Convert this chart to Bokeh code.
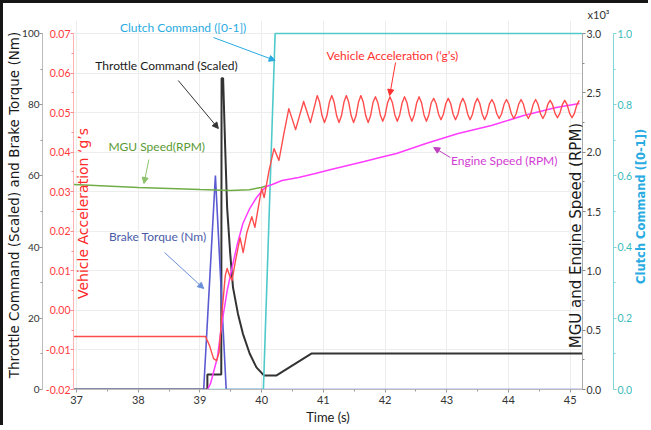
import math
from bokeh.plotting import figure
from bokeh.layouts import row
from bokeh.models import (Range1d, LinearAxis, FixedTicker, NumeralTickFormatter,
                          Label, Arrow, NormalHead, Grid, Title)
from bokeh.embed import file_html
from bokeh.resources import INLINE

# ---------------- data ----------------
x_ticks = [37, 38, 39, 40, 41, 42, 43, 44, 45]
x_minor = [37.5, 38.5, 39.5, 40.5, 41.5, 42.5, 43.5, 44.5]
thr_ticks = [0, 20, 40, 60, 80, 100]
thr_minor = [10, 30, 50, 70, 90]
acc_ticks = [-0.02, -0.01, 0.0, 0.01, 0.02, 0.03, 0.04, 0.05, 0.06, 0.07]
acc_minor = [-0.015, -0.005, 0.005, 0.015, 0.025, 0.035, 0.045, 0.055, 0.065]
spd_ticks = [0, 500, 1000, 1500, 2000, 2500, 3000]
spd_minor = [250, 750, 1250, 1750, 2250, 2750]
spd_labels = ["0.0", "0.5", "1.0", "1.5", "2.0", "2.5", "3.0"]
clu_ticks = [0.0, 0.2, 0.4, 0.6, 0.8, 1.0]
clu_minor = [0.1, 0.3, 0.5, 0.7, 0.9]

# Throttle command (scaled)
thr_time = [36.95, 39.12, 39.12, 39.345, 39.35, 39.375, 39.41, 39.44, 39.49, 39.535,
            39.615, 39.695, 39.805, 39.915, 40.04, 40.235, 40.805, 45.2]
thr_value = [0, 0, 4.2, 4.2, 87.4, 87.4, 67.1, 51.1, 38.2, 28.7,
             21.3, 15.7, 10.1, 6.2, 3.9, 3.9, 10.1, 10.1]

# Brake torque (Nm)
brk_time = [36.95, 39.06, 39.25, 39.425, 45.2]
brk_value = [0, 0, 60.1, 0, 0]

# MGU speed (RPM)
mgu_time = [36.95, 38.0, 39.0, 39.5, 39.8, 39.99, 40.075]
mgu_value = [1728, 1703, 1685, 1677, 1683, 1703, 1715]

# Engine speed (RPM)
eng_time = [39.124, 39.171, 39.227, 39.282, 39.362, 39.441, 39.52, 39.6, 39.695, 39.806,
            39.917, 39.996, 40.075, 40.171, 40.329, 40.599, 40.869, 41.123, 41.392, 41.662,
            41.916, 42.186, 42.662, 43.185, 43.724, 44.248, 44.772, 45.152]
eng_value = [0, 51, 160, 270, 581, 834, 1028, 1213, 1399, 1525,
             1618, 1669, 1711, 1728, 1761, 1787, 1820, 1854, 1888, 1921,
             1955, 1989, 2073, 2157, 2225, 2309, 2376, 2410]

# Clutch command ([0-1])
clu_time = [39.12, 40.028, 40.218, 45.2]
clu_value = [0, 0, 1, 1]

# Vehicle acceleration ('g's) - transient part
acc_time_a = [36.95, 39.09, 39.155, 39.22, 39.27, 39.31, 39.36, 39.41, 39.44, 39.48,
              39.52, 39.57, 39.65, 39.70, 39.76, 39.84, 39.89, 39.95, 40.00, 40.04,
              40.12, 40.20, 40.28, 40.36, 40.44, 40.55, 40.68, 40.79, 40.845]
acc_value_a = [-0.0066, -0.0066, -0.0089, -0.0122, -0.0127, -0.0106, 0.0000, 0.0088, 0.0106, 0.0088,
               0.0076, 0.0121, 0.0184, 0.0146, 0.0197, 0.0237, 0.0210, 0.0265, 0.0308, 0.0285,
               0.0354, 0.0409, 0.0379, 0.0447, 0.0510, 0.0457, 0.0528, 0.0475, 0.0509]
# Vehicle acceleration - sustained oscillation
acc_time_b = [
    40.900, 40.939, 40.979, 41.018, 41.057, 41.097,
    41.136, 41.175, 41.215, 41.254, 41.293, 41.333,
    41.372, 41.411, 41.451, 41.490, 41.529, 41.569,
    41.608, 41.647, 41.687, 41.726, 41.765, 41.805,
    41.844, 41.883, 41.923, 41.962, 42.001, 42.041,
    42.080, 42.119, 42.159, 42.198, 42.237, 42.277,
    42.316, 42.355, 42.395, 42.434, 42.473, 42.513,
    42.552, 42.591, 42.631, 42.670, 42.709, 42.749,
    42.788, 42.827, 42.867, 42.906, 42.945, 42.985,
    43.024, 43.063, 43.103, 43.142, 43.181, 43.221,
    43.260, 43.299, 43.339, 43.378, 43.417, 43.457,
    43.496, 43.535, 43.575, 43.614, 43.653, 43.693,
    43.732, 43.771, 43.811, 43.850, 43.889, 43.929,
    43.968, 44.007, 44.047, 44.086, 44.125, 44.165,
    44.204, 44.243, 44.283, 44.322, 44.361, 44.401,
    44.440, 44.479, 44.519, 44.558, 44.597, 44.637,
    44.676, 44.715, 44.755, 44.794, 44.833, 44.873,
    44.912, 44.951, 44.991, 45.030, 45.069, 45.109,
    45.148]
acc_value_b = [
    0.0543, 0.0526, 0.0492, 0.0475, 0.0492, 0.0526,
    0.0543, 0.0526, 0.0492, 0.0475, 0.0492, 0.0526,
    0.0543, 0.0526, 0.0492, 0.0475, 0.0492, 0.0526,
    0.0543, 0.0526, 0.0492, 0.0475, 0.0492, 0.0526,
    0.0540, 0.0525, 0.0494, 0.0478, 0.0494, 0.0525,
    0.0540, 0.0525, 0.0494, 0.0478, 0.0494, 0.0525,
    0.0540, 0.0525, 0.0494, 0.0478, 0.0494, 0.0525,
    0.0540, 0.0525, 0.0494, 0.0478, 0.0494, 0.0525,
    0.0536, 0.0523, 0.0496, 0.0482, 0.0496, 0.0523,
    0.0536, 0.0523, 0.0496, 0.0482, 0.0496, 0.0523,
    0.0536, 0.0523, 0.0496, 0.0482, 0.0496, 0.0523,
    0.0536, 0.0523, 0.0496, 0.0482, 0.0496, 0.0523,
    0.0533, 0.0521, 0.0497, 0.0485, 0.0497, 0.0521,
    0.0533, 0.0521, 0.0497, 0.0485, 0.0497, 0.0521,
    0.0533, 0.0521, 0.0497, 0.0485, 0.0497, 0.0521,
    0.0533, 0.0521, 0.0497, 0.0485, 0.0497, 0.0521,
    0.0531, 0.0520, 0.0498, 0.0487, 0.0498, 0.0520,
    0.0531, 0.0520, 0.0498, 0.0487, 0.0498, 0.0520,
    0.0531]
acc_time = acc_time_a + acc_time_b
acc_value = acc_value_a + acc_value_b

# ---------------- layout (page pixels of the reference) ----------------
EDGE = 3                            # dark frame line at left / top of the picture
STRIP = 16                          # narrow strip at the right holding the clutch title
W, H = 651 - EDGE - STRIP, 428 - EDGE
X0, X1 = 36.95, 45.2
FL, FR, FT, FB = 70, 590, 33, 389   # page pixels spanned by the axis extents
TOP = 20                            # top of the drawing frame (room for the top note)
BORDER = "3px solid #161616"


def dx(px):
    return X0 + (px - FL) * (X1 - X0) / (FR - FL)


def dy(py):
    return (FB - py) * 100.0 / (FB - FT)


def span_top(lo, hi):
    return lo + (FB - TOP) * (hi - lo) / (FB - FT)


p = figure(width=W, height=H, x_range=Range1d(X0, X1), y_range=Range1d(0, span_top(0, 100)),
           y_axis_location=None, output_backend="svg", toolbar_location=None,
           min_border_left=FL - EDGE, min_border_right=W - (FR - EDGE),
           min_border_top=TOP - EDGE, min_border_bottom=H - (FB - EDGE))
p.styles = {"border-left": BORDER, "border-top": BORDER}
p.outline_line_color = None
p.background_fill_color = "white"
p.border_fill_color = "white"

p.extra_y_ranges = {"accel": Range1d(-0.02, span_top(-0.02, 0.07)),
                    "speed": Range1d(0, span_top(0, 3000)),
                    "clutch": Range1d(0, span_top(0, 1))}

TICK_FONT = "Lato"

# x axis
xa = p.xaxis[0]
xa.ticker = FixedTicker(ticks=x_ticks, minor_ticks=x_minor)
xa.axis_label = "Time (s)"
xa.axis_label_text_font = "Lato"
xa.axis_label_text_font_size = "13px"
xa.axis_label_text_font_style = "normal"
xa.axis_label_text_color = "#1a1a1a"
xa.axis_label_standoff = 2
xa.axis_line_color = "#bbbbbb"
xa.major_tick_line_color = "#999999"
xa.minor_tick_line_color = "#999999"
xa.major_tick_out = 3
xa.major_tick_in = 0
xa.minor_tick_out = 2
xa.minor_tick_in = 0
xa.major_label_text_font = TICK_FONT
xa.major_label_text_font_size = "11px"
xa.major_label_text_color = "#333333"
xa.major_label_standoff = 3

# grids
p.xgrid.ticker = FixedTicker(ticks=x_ticks)
p.xgrid.grid_line_color = "#ededed"
for g in p.ygrid:
    g.visible = False
p.add_layout(Grid(dimension=1, ticker=FixedTicker(ticks=acc_ticks), y_range_name="accel",
                  grid_line_color="#ededed"))


def style_axis(ax, line_c, tick_c, label_c, size="10.5px", standoff=0):
    ax.axis_line_color = line_c
    ax.major_tick_line_color = tick_c
    ax.minor_tick_line_color = tick_c
    ax.major_tick_out = 3
    ax.major_tick_in = 0
    ax.minor_tick_out = 2
    ax.minor_tick_in = 0
    ax.major_label_text_font = TICK_FONT
    ax.major_label_text_font_size = size
    ax.major_label_text_color = label_c
    ax.major_label_standoff = standoff


# left axes: acceleration (inner), throttle (outer)
acc_ax = LinearAxis(y_range_name="accel", bounds=(-0.02, 0.07),
                    ticker=FixedTicker(ticks=acc_ticks, minor_ticks=acc_minor),
                    formatter=NumeralTickFormatter(format="0.00"))
style_axis(acc_ax, "#ffb3b3", "#ff8a8a", "#ff3b3b")
p.add_layout(acc_ax, "left")

thr_ax = LinearAxis(bounds=(0, 100), ticker=FixedTicker(ticks=thr_ticks, minor_ticks=thr_minor))
style_axis(thr_ax, "#bbbbbb", "#999999", "#333333", size="10px")
thr_ax.axis_label = "Throttle Command (Scaled) and Brake Torque (Nm)"
thr_ax.axis_label_text_font = "DejaVu Sans"
thr_ax.axis_label_text_font_size = "13.5px"
thr_ax.axis_label_text_font_style = "normal"
thr_ax.axis_label_text_color = "#1a1a1a"
thr_ax.axis_label_standoff = -3
p.add_layout(thr_ax, "left")

# right axes: speed (inner), clutch (outer)
spd_ax = LinearAxis(y_range_name="speed", bounds=(0, 3000),
                    ticker=FixedTicker(ticks=spd_ticks, minor_ticks=spd_minor))
spd_ax.major_label_overrides = dict(zip(spd_ticks, spd_labels))
style_axis(spd_ax, "#aaaaaa", "#888888", "#333333", standoff=1)
spd_ax.axis_label = " "
spd_ax.axis_label_text_font_size = "1px"
spd_ax.axis_label_standoff = 5
p.add_layout(spd_ax, "right")

clu_ax = LinearAxis(y_range_name="clutch", bounds=(0, 1),
                    ticker=FixedTicker(ticks=clu_ticks, minor_ticks=clu_minor),
                    formatter=NumeralTickFormatter(format="0.0"))
style_axis(clu_ax, "#7fd6d6", "#7fd6d6", "#3cbcbc", standoff=1)
p.add_layout(clu_ax, "right")

# scale multiplier of the speed axis, above its top end
p.add_layout(Title(text="x10\u00b3", align="right", offset=-27, standoff=0,
                   text_font="Lato", text_font_size="11px", text_font_style="normal",
                   text_color="#333333"), "above")

# ---------------- series ----------------
p.line(thr_time, thr_value, line_color="#333333", line_width=2)
p.line(brk_time, brk_value, line_color="#5a5ad2", line_width=1.6)
p.line(clu_time, clu_value, y_range_name="clutch", line_color="#4fc9c9", line_width=1.6)
p.line(mgu_time, mgu_value, y_range_name="speed", line_color="#70ad47", line_width=1.5)
p.line(eng_time, eng_value, y_range_name="speed", line_color="#ff3cff", line_width=1.5)
p.line(acc_time, acc_value, y_range_name="accel", line_color="#ff4d4d", line_width=1.4,
       line_join="round")


# ---------------- annotations ----------------
def note(text, px, py, color, size="12px", font="Lato", angle=0.0, style="normal"):
    p.add_layout(Label(x=dx(px), y=dy(py), text=text, text_color=color, text_font=font,
                       text_font_size=size, text_font_style=style, text_align="center",
                       text_baseline="middle", angle=angle))


def pointer(x0, y0, x1, y1, color):
    p.add_layout(Arrow(x_start=dx(x0), y_start=dy(y0), x_end=dx(x1), y_end=dy(y1),
                       line_color=color, line_width=1,
                       end=NormalHead(size=6, fill_color=color, line_color=color)))


note("Clutch Command ([0-1])", 182, 27, "#29abe2")
pointer(213, 37, 276, 60, "#29abe2")
note("Throttle Command (Scaled)", 165, 65, "#1a1a1a")
pointer(177, 80, 218, 128, "#333333")
note("MGU Speed(RPM)", 155, 146, "#5b9a36")
pointer(147, 159, 142, 183, "#8cc26a")
note("Brake Torque (Nm)", 156, 236, "#4a5ca8")
pointer(163, 252, 203, 288, "#6a8fd8")
note("Vehicle Acceleration (\u2018g\u2019s)", 396, 55, "#ff3030")
pointer(399, 62, 393, 95, "#ff3030")
note("Engine Speed (RPM)", 510, 160, "#d23cd2")
pointer(455, 157, 438, 147, "#c040c0")

# axis titles that sit inside the frame
note("Vehicle Acceleration \u2018g\u2019s", 80, 213, "#ff2a2a", size="14px",
     font="DejaVu Sans", angle=math.pi / 2)
note("MGU and Engine Speed (RPM)", 583, 235, "#1a1a1a", size="15px",
     font="DejaVu Sans", angle=math.pi / 2)

# ---------------- right strip: title of the clutch axis ----------------
strip = figure(width=STRIP, height=H, x_range=Range1d(0, 1), y_range=Range1d(0, 1),
               x_axis_location=None, y_axis_location=None, output_backend="svg",
               toolbar_location=None, min_border=0)
strip.styles = {"border-top": BORDER}
strip.outline_line_color = None
strip.grid.visible = False
strip.background_fill_color = "white"
strip.border_fill_color = "white"
strip_x = 0.5
strip_y = 1 - (217 - EDGE) / H
strip.add_layout(Label(x=strip_x, y=strip_y, text="Clutch Command ([0-1])", text_color="#29abe2",
                       text_font="DejaVu Sans", text_font_size="11.5px", text_font_style="bold",
                       text_align="center", text_baseline="middle", angle=math.pi / 2))

page = row(p, strip)
open("out.html", "w").write(file_html(page, INLINE))
